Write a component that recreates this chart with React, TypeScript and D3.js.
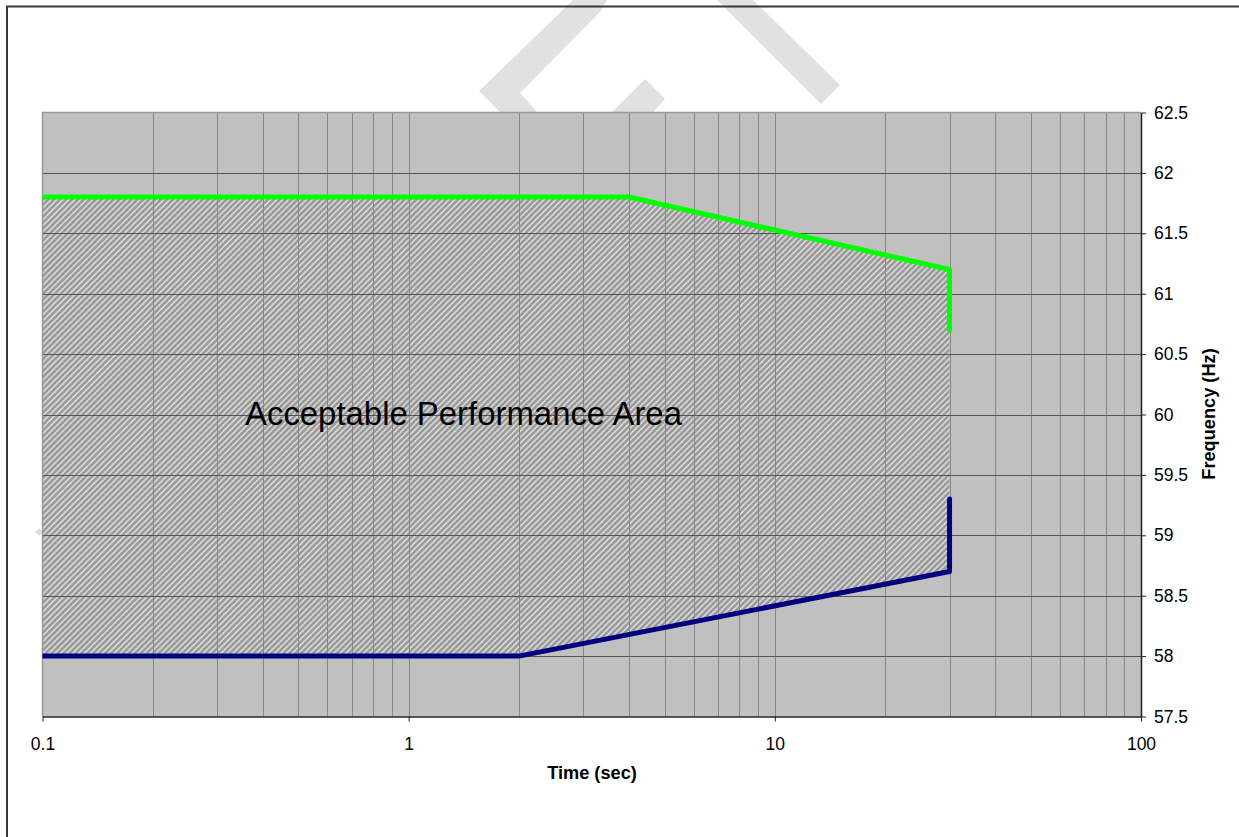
import * as React from "react";
import * as d3 from "d3";

// frequency ride-through envelope (time in sec, frequency in Hz)
const upperTime = [0.1, 4, 30, 30];
const upperFreq = [61.8, 61.8, 61.2, 60.7];
const lowerTime = [0.1, 2, 30, 30];
const lowerFreq = [58, 58, 58.7, 59.3];

const xTicks = [0.1, 1, 10, 100];
const yTicks = [57.5, 58, 58.5, 59, 59.5, 60, 60.5, 61, 61.5, 62, 62.5];
const xGrid = [0.2, 0.3, 0.4, 0.5, 0.6, 0.7, 0.8, 0.9, 1, 2, 3, 4, 5, 6, 7, 8, 9, 10, 20, 30, 40, 50, 60, 70, 80, 90];

const areaLabel = "Acceptable Performance Area";
const xTitle = "Time (sec)";
const yTitle = "Frequency (Hz)";

const W = 1239;
const H = 837;
const FONT = "'Liberation Sans', Arial, sans-serif";

// watermark fragments peeking out above the plot
const watermark = [
  [[479, 91], [573, 0], [607, 0], [600, 12], [520, 93], [537, 112], [500, 112]],
  [[645, 79], [665, 99], [653, 112], [612, 112]],
  [[717, 0], [753, 0], [840, 85], [821, 104]],
  [[39, 528], [43, 532], [39, 536], [35, 532]],
];

export default function App() {
  const svgRef = React.useRef<SVGSVGElement>(null);

  React.useEffect(() => {
    if (!svgRef.current) return;
    const svg = d3.select(svgRef.current);
    svg.selectAll("*").remove();

    const plot = { left: 42.5, right: 1141, top: 112.5, bottom: 716.5 };

    const x = d3.scaleLog().domain([0.1, 100]).range([plot.left, plot.right]);
    const y = d3.scaleLinear().domain([57.5, 62.5]).range([plot.bottom, plot.top]);

    const defs = svg.append("defs");
    const pat = defs.append("pattern")
      .attr("id", "hatch")
      .attr("patternUnits", "userSpaceOnUse")
      .attr("width", 4.2)
      .attr("height", 4.2)
      .attr("patternTransform", "rotate(45)");
    pat.append("rect").attr("width", 4.2).attr("height", 4.2).attr("fill", "#9a9a9a");
    pat.append("rect").attr("width", 1.7).attr("height", 4.2).attr("fill", "#d6d6d6");

    defs.append("clipPath").attr("id", "plotClip")
      .append("rect")
      .attr("x", plot.left).attr("y", plot.top)
      .attr("width", plot.right - plot.left).attr("height", plot.bottom - plot.top);

    // watermark (behind the frame line)
    svg.append("g").selectAll("polygon")
      .data(watermark)
      .enter().append("polygon")
      .attr("points", d => d.map(p => p.join(",")).join(" "))
      .attr("fill", "#e1e1e1");

    // outer frame
    svg.append("rect")
      .attr("x", 7).attr("y", 6.5)
      .attr("width", W + 50).attr("height", H + 50)
      .attr("fill", "none")
      .attr("stroke", "#383838")
      .attr("stroke-width", 2);

    // plot background
    svg.append("rect")
      .attr("x", plot.left).attr("y", plot.top)
      .attr("width", plot.right - plot.left).attr("height", plot.bottom - plot.top)
      .attr("fill", "#c0c0c0");

    // hatched acceptable area: upper curve then lower curve backwards
    const upperPts = upperTime.slice(0, 3).map((t, i) => [t, upperFreq[i]] as [number, number]);
    const lowerPts = lowerTime.slice(0, 3).map((t, i) => [t, lowerFreq[i]] as [number, number]);
    const polyLine = d3.line<[number, number]>().x(d => x(d[0])).y(d => y(d[1]));
    svg.append("path")
      .attr("d", polyLine(upperPts.concat(lowerPts.reverse())) + "Z")
      .attr("fill", "url(#hatch)");

    // grid
    const grid = svg.append("g");
    grid.selectAll("line.v")
      .data(xGrid)
      .enter().append("line")
      .attr("class", "v")
      .attr("x1", d => Math.round(x(d)) + 0.5).attr("x2", d => Math.round(x(d)) + 0.5)
      .attr("y1", plot.top).attr("y2", plot.bottom)
      .attr("stroke", "#878787")
      .attr("stroke-width", 1);
    grid.selectAll("line.h")
      .data(yTicks.slice(1, -1))
      .enter().append("line")
      .attr("class", "h")
      .attr("x1", plot.left).attr("x2", plot.right)
      .attr("y1", d => Math.round(y(d)) + 0.5).attr("y2", d => Math.round(y(d)) + 0.5)
      .attr("stroke", "#555")
      .attr("stroke-width", 1);
    // top and left plot border
    grid.append("path")
      .attr("d", `M${plot.left},${plot.bottom}V${plot.top}H${plot.right}`)
      .attr("fill", "none")
      .attr("stroke", "#999")
      .attr("stroke-width", 1.5);

    // label inside the area
    svg.append("text")
      .attr("x", 245).attr("y", 425)
      .attr("font-family", FONT)
      .attr("font-size", 32.9)
      .attr("fill", "#000")
      .text(areaLabel);

    // envelope lines
    const lines = svg.append("g").attr("clip-path", "url(#plotClip)");
    const envLine = d3.line<number>()
      .x(d => x(d));
    lines.append("path")
      .attr("d", envLine.y((_, i) => y(upperFreq[i]))(upperTime))
      .attr("fill", "none")
      .attr("stroke", "#00ff00")
      .attr("stroke-width", 5)
      .attr("stroke-linejoin", "round")
      .attr("stroke-linecap", "round");
    lines.append("path")
      .attr("d", envLine.y((_, i) => y(lowerFreq[i]))(lowerTime))
      .attr("fill", "none")
      .attr("stroke", "#000080")
      .attr("stroke-width", 5)
      .attr("stroke-linejoin", "round")
      .attr("stroke-linecap", "round");

    // axes
    const xAxis = svg.append("g")
      .attr("transform", `translate(0,${plot.bottom})`)
      .call(d3.axisBottom(x).tickValues(xTicks).tickFormat(d => String(d))
        .tickSize(5).tickSizeOuter(0).tickPadding(16));
    const yAxis = svg.append("g")
      .attr("transform", `translate(${plot.right},0)`)
      .call(d3.axisRight(y).tickValues(yTicks).tickFormat(d => String(d))
        .tickSize(5).tickSizeOuter(0).tickPadding(8));
    [xAxis, yAxis].forEach(a => {
      a.selectAll("path.domain").attr("stroke", "#222").attr("stroke-width", 1.5);
      a.selectAll("line").attr("stroke", "#222");
      a.selectAll("text")
        .attr("font-family", FONT)
        .attr("font-size", 17.5)
        .attr("fill", "#000");
    });

    // axis titles
    svg.append("text")
      .attr("x", 592).attr("y", 779)
      .attr("text-anchor", "middle")
      .attr("font-family", FONT)
      .attr("font-size", 18.2)
      .attr("font-weight", "bold")
      .text(xTitle);
    svg.append("text")
      .attr("transform", "translate(1215,414) rotate(-90)")
      .attr("text-anchor", "middle")
      .attr("font-family", FONT)
      .attr("font-size", 18.2)
      .attr("font-weight", "bold")
      .text(yTitle);
  }, []);

  return (
    <div style={{ position: "absolute", left: 0, top: 0, width: W, height: H, overflow: "hidden", background: "#fff" }}>
      <svg ref={svgRef} width={W} height={H} style={{ display: "block" }} />
    </div>
  );
}
